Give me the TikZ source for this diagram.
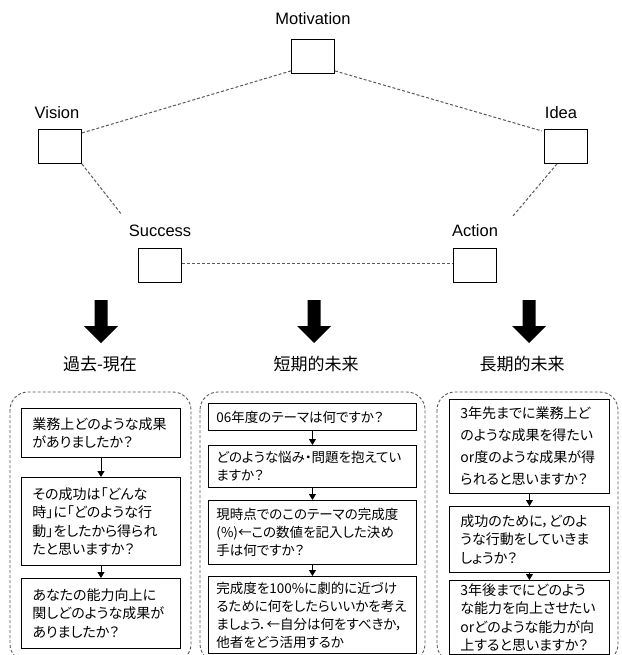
\documentclass[tikz,border=0pt]{standalone}
\usepackage{fontspec}
\setmainfont{Liberation Sans}
\newfontfamily\jp[RawFeature=+palt]{Noto Sans CJK JP}
\usetikzlibrary{arrows.meta}
\begin{document}
\begin{tikzpicture}[x=1pt,y=-1pt,
  sq/.style={draw, line width=0.9pt, minimum width=43pt, minimum height=34pt, inner sep=0pt, anchor=north west},
  lbl/.style={font=\fontsize{16.5}{18}\selectfont, inner sep=0pt},
  link/.style={draw=black!65, dash pattern=on 3pt off 2pt, line width=1pt},
  qbox/.style={draw, line width=0.9pt, anchor=north west, inner xsep=11pt, inner ysep=2pt, align=left, font=\jp\fontsize{14}{18.5}\selectfont},
  qboxs/.style={qbox, inner xsep=8pt, font=\jp\fontsize{13.5}{18}\selectfont},
  group/.style={draw=black!65, dash pattern=on 3pt off 2pt, line width=0.9pt, rounded corners=18pt},
  flow/.style={-{Triangle[length=6pt,width=7pt]}, line width=0.8pt},
  head/.style={font=\jp\fontsize{17}{18}\selectfont, inner sep=0pt}
]
\useasboundingbox (0,0) rectangle (621,655);
\clip (0,0) rectangle (621,655);
\fill[white] (0,0) rectangle (621,655);

% --- top pentagon ---
\node[sq] (mot) at (291,39) {};
\node[sq] (vis) at (38,129) {};
\node[sq] (ide) at (544,129) {};
\node[sq] (suc) at (138,248) {};
\node[sq] (act) at (453,248) {};
\node[lbl] (lmot) at (313,19) {Motivation};
\node[lbl] (lvis) at (57,113) {Vision};
\node[lbl] (lide) at (561,113) {Idea};
\node[lbl] (lsuc) at (160,231) {Success};
\node[lbl] (lact) at (475,231) {Action};
\coordinate (vend) at (122,215);
\coordinate (iend) at (513,216);
\draw[link] ([yshift=3pt]mot.south west) -- ([yshift=-4pt]vis.north east);
\draw[link] ([yshift=3pt]mot.south east) -- ([xshift=-2pt,yshift=-2pt]ide.north west);
\draw[link] (vis.south east) -- (vend);
\draw[link] ([xshift=-9pt]ide.south) -- (iend);
\draw[link] ([yshift=2pt]suc.east) -- ([yshift=2pt]act.west);

% --- big arrows ---
\foreach \cx in {101,314,529}{
  \fill[black] (\cx-6.5,300) -- (\cx+6.5,300) -- (\cx+6.5,326) -- (\cx+17,326) -- (\cx,343) -- (\cx-17,326) -- (\cx-6.5,326) -- cycle;
}
\node[head] (h1) at (100,364) {過去-現在};
\node[head] (h2) at (316,364) {短期的未来};
\node[head] (h3) at (522,364) {長期的未来};

% --- groups ---
\draw[group] (10,392) rectangle (191,662);
\draw[group] (200,392) rectangle (425,662);
\draw[group] (437,392) rectangle (618,662);

% column 1
\node[qbox, text width=137pt, minimum height=49pt] (a1) at (21,408) {業務上どのような成果\\がありましたか？};
\node[qbox, text width=137pt, minimum height=88pt] (a2) at (21,477) {その成功は「どんな\\時」に「どのような行\\動」をしたから得られ\\たと思いますか？};
\node[qbox, text width=137pt, minimum height=70pt] (a3) at (21,578) {あなたの能力向上に\\関しどのような成果が\\ありましたか？};
\draw[flow] (a1.south) -- (a2.north);
\draw[flow] (a2.south) -- (a3.north);

% column 2
\node[qboxs, text width=192pt, minimum height=27pt] (b1) at (208,403) {06年度のテーマは何ですか？};
\node[qboxs, text width=192pt, minimum height=42pt] (b2) at (208,445) {どのような悩み・問題を抱えてい\\ますか？};
\node[qboxs, text width=192pt, minimum height=64pt] (b3) at (208,500) {現時点でのこのテーマの完成度\\(\%)←この数値を記入した決め\\手は何ですか？};
\node[qboxs, text width=192pt, minimum height=77pt] (b4) at (208,576) {完成度を100\%に劇的に近づけ\\るために何をしたらいいかを考え\\ましょう．←自分は何をすべきか，\\他者をどう活用するか};
\draw[flow] (b1.south) -- (b2.north);
\draw[flow] (b2.south) -- (b3.north);
\draw[flow] (b3.south) -- (b4.north);

% column 3
\node[qbox, text width=138pt, minimum height=94pt, font=\jp\fontsize{14}{22}\selectfont] (c1) at (449,399) {3年先までに業務上ど\\のような成果を得たい\\or度のような成果が得\\られると思いますか？};
\node[qbox, text width=138pt, minimum height=66pt] (c2) at (449,506) {成功のために，どのよ\\うな行動をしていきま\\しょうか？};
\node[qbox, text width=138pt, minimum height=74pt] (c3) at (449,580) {3年後までにどのよう\\な能力を向上させたい\\orどのような能力が向\\上すると思いますか？};
\draw[flow] (c1.south) -- (c2.north);
\draw[flow] (c2.south) -- (c3.north);
\end{tikzpicture}
\end{document}
